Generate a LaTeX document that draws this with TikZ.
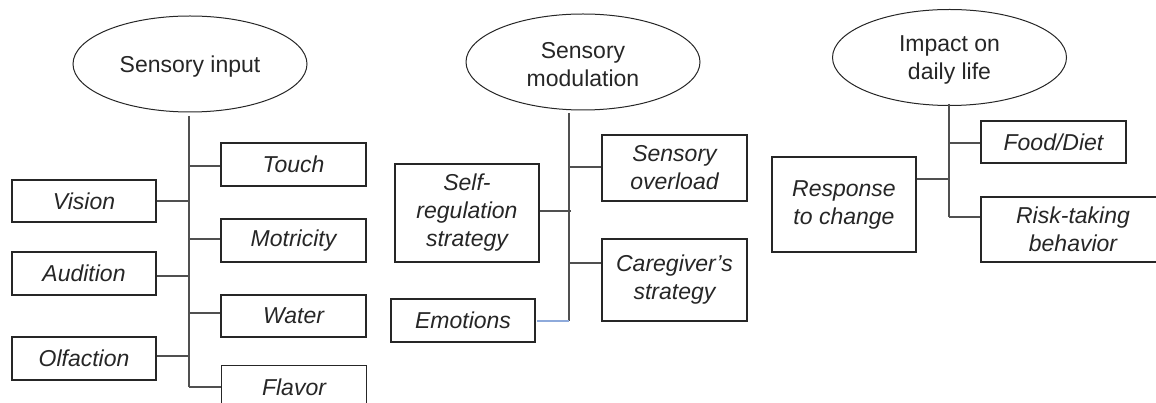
\documentclass[tikz,border=0pt]{standalone}
\usepackage{fontspec}
\setmainfont{Liberation Sans}
\usetikzlibrary{shapes.geometric}
\definecolor{inkc}{HTML}{262626}
\definecolor{linkc}{HTML}{505050}
\definecolor{bluelink}{HTML}{8EAADB}
\tikzset{
  topic/.style={ellipse, draw=inkc, line width=1pt, minimum width=234pt,
    minimum height=96pt, inner sep=0pt},
  topictext/.style={align=center, text=inkc, inner sep=0pt,
    font=\fontsize{23}{28}\selectfont},
  itembox/.style={rectangle, draw=inkc, line width=1.2pt, inner sep=0pt,
    align=center, text=inkc, font=\fontsize{23}{28}\selectfont\itshape},
  link/.style={draw=linkc, line width=1.1pt},
}
\begin{document}
\begin{tikzpicture}[x=1pt, y=-1pt]
\useasboundingbox (0,0) rectangle (1156,403);
\clip (0,0) rectangle (1156,403);

% ---------- Sensory input ----------
\node[topic] (si) at (190,64) {};
\node[topictext] (siText) at (190,67) {Sensory input};
\node[itembox, minimum width=145pt, minimum height=43pt] (touch) at (293.5,164.5) {Touch};
\node[itembox, minimum width=144pt, minimum height=42pt] (vision) at (84,201) {Vision};
\node[itembox, minimum width=145pt, minimum height=43pt] (motr) at (293.5,240.5) {Motricity};
\node[itembox, minimum width=144pt, minimum height=43pt] (aud) at (84,273.5) {Audition};
\node[itembox, minimum width=145pt, minimum height=42pt] (water) at (293.5,316) {Water};
\node[itembox, minimum width=144pt, minimum height=43pt] (olf) at (84,358.5) {Olfaction};
\node[itembox, minimum width=145pt, minimum height=43pt] (flavor) at (294,387) {Flavor};

\coordinate (siTop) at (189,116);
\coordinate (siBot) at (189,387);
\draw[link] (siTop) -- (siBot);
\coordinate (j1) at (189,166);
\coordinate (j2) at (189,201);
\coordinate (j3) at (189,239);
\coordinate (j4) at (189,276);
\coordinate (j5) at (189,313);
\coordinate (j6) at (189,356);
\draw[link] (j1) -- (j1 -| touch.west);
\draw[link] (j2) -- (j2 -| vision.east);
\draw[link] (j3) -- (j3 -| motr.west);
\draw[link] (j4) -- (j4 -| aud.east);
\draw[link] (j5) -- (j5 -| water.west);
\draw[link] (j6) -- (j6 -| olf.east);
\draw[link] (siBot) -- (siBot -| flavor.west);

% ---------- Sensory modulation ----------
\node[topic] (sm) at (583,62) {};
\node[topictext] (smText) at (583,65) {Sensory\\modulation};
\node[itembox, minimum width=145pt, minimum height=66pt] (overload) at (674.5,168) {Sensory\\overload};
\node[itembox, minimum width=144pt, minimum height=98pt] (selfreg) at (467,213) {Self-\\regulation\\strategy};
\node[itembox, minimum width=145pt, minimum height=82pt] (caregiver) at (674.5,280) {Caregiver’s\\strategy};
\node[itembox, minimum width=144pt, minimum height=43pt] (emo) at (463,320.5) {Emotions};

\coordinate (smTop) at (569,113);
\coordinate (smBot) at (569,321);
\draw[link] (smTop) -- (smBot);
\coordinate (k1) at (569,167);
\coordinate (k2) at (571,211);
\coordinate (k3) at (569,263);
\draw[link] (k1) -- (k1 -| overload.west);
\draw[link] (k2) -- (k2 -| selfreg.east);
\draw[link] (k3) -- (k3 -| caregiver.west);
\draw[draw=bluelink, line width=1.6pt] (smBot) -- (smBot -| 537,0);

% ---------- Impact on daily life ----------
\node[topic] (idl) at (949.5,57.5) {};
\node[topictext] (idlText) at (949.5,60) {Impact on\\daily life};
\node[itembox, minimum width=145pt, minimum height=42pt] (food) at (1053.5,142) {Food/Diet};
\node[itembox, minimum width=144pt, minimum height=95pt] (resp) at (844,204.5) {Response\\to change};
\node[itembox, minimum width=184pt, minimum height=65pt] (risk) at (1073,229.5) {Risk-taking\\behavior};

\coordinate (idTop) at (949,104);
\coordinate (idBot) at (949,217);
\draw[link] (idTop) -- (idBot);
\coordinate (m1) at (949,143);
\coordinate (m2) at (949,179);
\draw[link] (m1) -- (m1 -| food.west);
\draw[link] (m2) -- (m2 -| resp.east);
\draw[link] (idBot) -- (idBot -| risk.west);
\end{tikzpicture}
\end{document}
